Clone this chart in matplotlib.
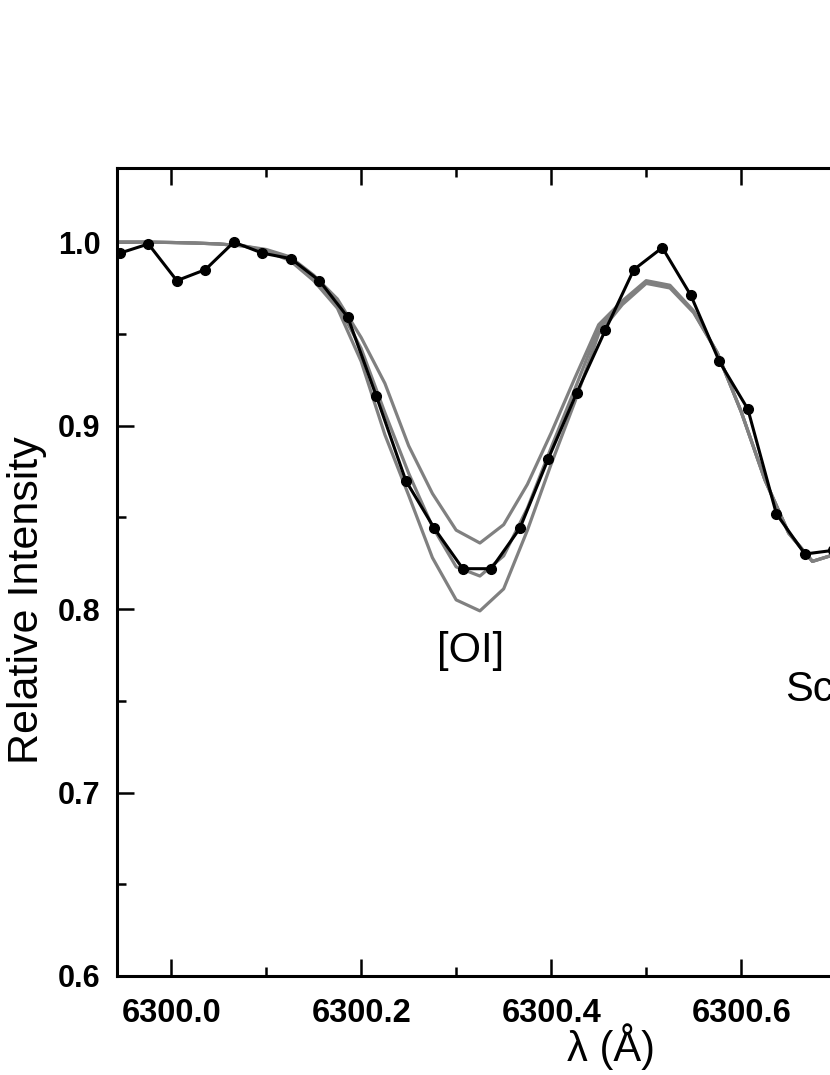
import numpy as np
import matplotlib
matplotlib.use("Agg")
import matplotlib.pyplot as plt
from matplotlib.ticker import MultipleLocator, FormatStrFormatter

plt.rcParams["font.family"] = ["Liberation Sans", "DejaVu Sans"]

# observed spectrum (black dots)
obs_wave = [6299.946, 6299.976, 6300.006, 6300.036, 6300.066, 6300.096, 6300.126,
            6300.156, 6300.186, 6300.216, 6300.247, 6300.277, 6300.307, 6300.337,
            6300.367, 6300.397, 6300.427, 6300.457, 6300.487, 6300.517, 6300.547,
            6300.577, 6300.607, 6300.637, 6300.667, 6300.697]
obs_flux = [0.994, 0.999, 0.979, 0.985, 1.000, 0.994, 0.991, 0.979, 0.959, 0.916,
            0.870, 0.844, 0.822, 0.822, 0.844, 0.882, 0.918, 0.952, 0.985, 0.997,
            0.971, 0.935, 0.909, 0.852, 0.830, 0.832]

# synthetic spectra (grey), three oxygen abundances
syn_wave = [6299.925, 6299.950, 6299.975, 6300.000, 6300.025, 6300.050, 6300.075,
            6300.100, 6300.125, 6300.150, 6300.175, 6300.200, 6300.225, 6300.250,
            6300.275, 6300.300, 6300.325, 6300.350, 6300.375, 6300.400, 6300.425,
            6300.450, 6300.475, 6300.500, 6300.525, 6300.550, 6300.575, 6300.600,
            6300.625, 6300.650, 6300.675, 6300.700]
syn_low = [1.000, 1.000, 1.000, 0.9998, 0.9995, 0.999, 0.998, 0.996, 0.992, 0.982,
           0.969, 0.948, 0.923, 0.889, 0.863, 0.843, 0.836, 0.846, 0.868, 0.896,
           0.926, 0.955, 0.968, 0.979, 0.9765, 0.9625, 0.9395, 0.9076, 0.8704,
           0.8414, 0.826, 0.830]
syn_mid = [1.000, 1.000, 1.000, 0.9998, 0.9995, 0.999, 0.998, 0.9955, 0.991, 0.980,
           0.966, 0.942, 0.907, 0.874, 0.845, 0.823, 0.818, 0.829, 0.855, 0.888,
           0.920, 0.953, 0.967, 0.978, 0.9757, 0.962, 0.9395, 0.9076, 0.8704,
           0.8414, 0.826, 0.830]
syn_high = [1.000, 1.000, 1.000, 0.9998, 0.9995, 0.999, 0.998, 0.995, 0.990, 0.979,
            0.964, 0.935, 0.895, 0.862, 0.828, 0.805, 0.799, 0.811, 0.843, 0.879,
            0.913, 0.950, 0.966, 0.9775, 0.975, 0.9615, 0.9395, 0.9076, 0.8704,
            0.8414, 0.826, 0.830]

fig = plt.figure(figsize=(8.3, 10.75), dpi=100)
# axes run past the right edge of the figure (cropped panel)
ax = fig.add_axes([117 / 830, 1 - 976 / 1075, (1121 - 117) / 830, (976 - 168) / 1075])

grey = "#808080"
for flux in (syn_low, syn_mid, syn_high):
    ax.plot(syn_wave, flux, color=grey, lw=2.3, zorder=2)
ax.plot(obs_wave, obs_flux, color="black", lw=2.2, marker="o", ms=7, zorder=3)

ax.set_xlim(6299.943, 6300.9998)
ax.set_ylim(0.6, 1.0404)

ax.xaxis.set_major_locator(MultipleLocator(0.2))
ax.xaxis.set_minor_locator(MultipleLocator(0.1))
ax.yaxis.set_major_locator(MultipleLocator(0.1))
ax.yaxis.set_minor_locator(MultipleLocator(0.05))
ax.xaxis.set_major_formatter(FormatStrFormatter("%.1f"))
ax.yaxis.set_major_formatter(FormatStrFormatter("%.1f"))

ax.tick_params(which="both", direction="in", top=True, right=True, width=1.8)
ax.tick_params(which="major", length=12.5)
ax.tick_params(which="minor", length=6.5)
ax.tick_params(axis="x", which="major", pad=16, labelsize=23.5)
ax.tick_params(axis="y", which="major", pad=12, labelsize=22)
for lab in ax.get_xticklabels() + ax.get_yticklabels():
    lab.set_fontweight("bold")
for sp in ax.spines.values():
    sp.set_linewidth(2.2)

ax.set_ylabel("Relative Intensity", fontsize=31)
ax.yaxis.set_label_coords(-0.07, 0.465)
ax.set_xlabel("λ (Å)", fontsize=30)
ax.xaxis.set_label_coords(0.492, -0.058)

ax.text(6300.3156, 0.777, "[OI]", fontsize=30, ha="center", va="center")
ax.text(6300.646, 0.756, "Sc", fontsize=30, ha="left", va="center")

fig.savefig("out.png", dpi=100)
